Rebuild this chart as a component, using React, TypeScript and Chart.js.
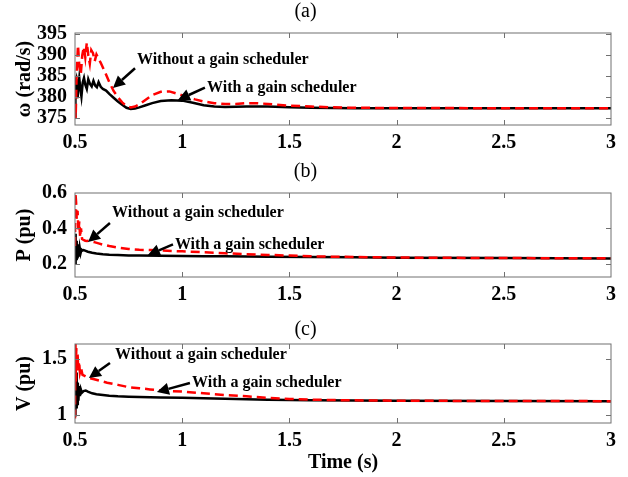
import React, { useEffect, useRef } from 'react';
import { Chart, registerables } from 'chart.js';
Chart.register(...registerables);

const FONT = "'Liberation Serif', 'Times New Roman', serif";

// shared x ticks (time, s)
const xTicks = [0.5, 1, 1.5, 2, 2.5, 3];

// ---- Panel (a): rotor speed omega (rad/s)
const tA_with = [0.5, 0.502, 0.505, 0.508, 0.512, 0.516, 0.52, 0.525, 0.53, 0.536, 0.542, 0.548, 0.555, 0.562, 0.57, 0.578, 0.586, 0.594, 0.602, 0.61, 0.62, 0.63, 0.645, 0.66, 0.68, 0.7, 0.72, 0.74, 0.76, 0.78, 0.8, 0.83, 0.86, 0.9, 0.95, 1.0, 1.05, 1.1, 1.15, 1.2, 1.3, 1.4, 1.5, 1.6, 1.8, 2.0, 2.5, 3.0];
const omegaWith = [375.5, 383.8, 384.3, 381.5, 379.8, 382.5, 384.5, 382.0, 380.2, 383.5, 384.6, 383.0, 382.0, 384.3, 383.2, 382.6, 383.9, 382.8, 382.4, 383.6, 382.5, 382.0, 381.6, 380.8, 379.9, 379.0, 378.2, 377.5, 377.2, 377.3, 377.6, 378.1, 378.6, 379.1, 379.3, 379.2, 378.7, 378.1, 377.8, 377.7, 377.8, 377.8, 377.6, 377.5, 377.4, 377.4, 377.4, 377.4];
const tA_without = [0.5, 0.503, 0.508, 0.514, 0.52, 0.527, 0.534, 0.541, 0.548, 0.555, 0.562, 0.569, 0.576, 0.584, 0.592, 0.6, 0.61, 0.62, 0.64, 0.66, 0.68, 0.7, 0.72, 0.74, 0.76, 0.78, 0.8, 0.83, 0.86, 0.9, 0.94, 0.98, 1.02, 1.06, 1.1, 1.15, 1.2, 1.25, 1.3, 1.35, 1.4, 1.5, 1.6, 1.7, 1.8, 2.0, 2.5, 3.0];
const omegaWithout = [377.0, 375.0, 386.0, 392.4, 387.5, 385.5, 390.0, 392.0, 389.5, 393.0, 390.0, 388.0, 391.2, 390.5, 388.6, 390.2, 389.2, 388.2, 386.0, 383.6, 381.5, 380.0, 378.8, 377.9, 377.6, 377.8, 378.3, 379.4, 380.5, 381.3, 381.4, 380.8, 380.1, 379.5, 379.0, 378.6, 378.4, 378.4, 378.6, 378.6, 378.4, 378.0, 377.8, 377.6, 377.5, 377.45, 377.4, 377.4];
const yTicksA = [375, 380, 385, 390, 395];

// ---- Panel (b): active power P (pu)
const tB_with = [0.5, 0.502, 0.504, 0.506, 0.508, 0.51, 0.512, 0.515, 0.518, 0.522, 0.526, 0.53, 0.535, 0.54, 0.55, 0.56, 0.58, 0.6, 0.63, 0.66, 0.7, 0.75, 0.8, 0.9, 1.0, 1.1, 1.2, 1.4, 1.6, 1.8, 2.0, 2.5, 3.0];
const pWith = [0.2, 0.37, 0.21, 0.33, 0.22, 0.31, 0.23, 0.3, 0.24, 0.29, 0.26, 0.28, 0.275, 0.277, 0.273, 0.268, 0.262, 0.258, 0.254, 0.251, 0.249, 0.247, 0.246, 0.245, 0.244, 0.243, 0.242, 0.24, 0.238, 0.236, 0.234, 0.232, 0.23];
const tB_without = [0.5, 0.502, 0.505, 0.508, 0.512, 0.516, 0.52, 0.524, 0.528, 0.533, 0.54, 0.548, 0.556, 0.565, 0.575, 0.59, 0.61, 0.63, 0.66, 0.7, 0.75, 0.8, 0.85, 0.9, 1.0, 1.1, 1.2, 1.3, 1.4, 1.5, 1.6, 1.8, 2.0, 2.5, 3.0];
const pWithout = [0.3, 0.6, 0.55, 0.45, 0.5, 0.38, 0.44, 0.35, 0.4, 0.34, 0.335, 0.33, 0.328, 0.33, 0.327, 0.322, 0.315, 0.308, 0.3, 0.291, 0.284, 0.279, 0.277, 0.275, 0.27, 0.265, 0.259, 0.254, 0.25, 0.246, 0.242, 0.238, 0.235, 0.232, 0.231];
const yTicksB = [0.2, 0.4, 0.6];

// ---- Panel (c): voltage V (pu)
const tC_with = [0.5, 0.501, 0.503, 0.505, 0.507, 0.509, 0.511, 0.513, 0.516, 0.519, 0.523, 0.527, 0.532, 0.54, 0.55, 0.56, 0.58, 0.6, 0.63, 0.66, 0.7, 0.75, 0.8, 0.9, 1.0, 1.1, 1.2, 1.4, 1.6, 1.8, 2.0, 2.5, 3.0];
const vWith = [1.0, 1.45, 1.02, 1.38, 1.06, 1.33, 1.1, 1.29, 1.13, 1.26, 1.17, 1.23, 1.2, 1.215, 1.22, 1.21, 1.195, 1.187, 1.18, 1.174, 1.168, 1.164, 1.161, 1.158, 1.155, 1.15, 1.146, 1.138, 1.133, 1.13, 1.128, 1.126, 1.125];
const tC_without = [0.5, 0.502, 0.504, 0.506, 0.509, 0.512, 0.515, 0.519, 0.523, 0.528, 0.535, 0.545, 0.555, 0.57, 0.59, 0.62, 0.65, 0.7, 0.75, 0.8, 0.85, 0.9, 1.0, 1.1, 1.2, 1.3, 1.4, 1.5, 1.6, 1.8, 2.0, 2.5, 3.0];
const vWithout = [0.97, 1.7, 1.3, 1.6, 1.42, 1.55, 1.4, 1.48, 1.38, 1.42, 1.36, 1.35, 1.34, 1.33, 1.32, 1.305, 1.29, 1.27, 1.25, 1.24, 1.23, 1.22, 1.21, 1.195, 1.18, 1.168, 1.155, 1.145, 1.138, 1.132, 1.129, 1.126, 1.125];
const yTicksC = [1, 1.5];

// annotation labels (text anchor and arrow tail/head in data units)
const labelWithout = 'Without a gain scheduler';
const labelWith = 'With a gain scheduler';
const annA = [
  { text: labelWithout, tx: 0.789, ty: 388.9, x1: 0.78, y1: 386.9, x2: 0.677, y2: 382.2 },
  { text: labelWith, tx: 1.116, ty: 382.2, x1: 1.106, y1: 382.3, x2: 0.98, y2: 379.35 },
];
const annB = [
  { text: labelWithout, tx: 0.673, ty: 0.487, x1: 0.663, y1: 0.43, x2: 0.561, y2: 0.323 },
  { text: labelWith, tx: 0.966, ty: 0.306, x1: 0.957, y1: 0.31, x2: 0.84, y2: 0.249 },
];
const annC = [
  { text: labelWithout, tx: 0.687, ty: 1.537, x1: 0.663, y1: 1.465, x2: 0.565, y2: 1.331 },
  { text: labelWith, tx: 1.046, ty: 1.287, x1: 1.036, y1: 1.287, x2: 0.882, y2: 1.206 },
];

const framePlugin = {
  id: 'frame',
  afterDatasetsDraw(chart: any, _args: any, opts: any) {
    const { ctx, chartArea, scales } = chart;
    const { left, right, top, bottom } = chartArea;
    const xs = scales.x;
    const ys = scales.y;
    ctx.save();
    ctx.strokeStyle = '#707070';
    ctx.lineWidth = 1;
    ctx.strokeRect(left, top, right - left, bottom - top);
    const tl = 5;
    ctx.beginPath();
    xs.ticks.forEach((t: any) => {
      const px = Math.round(xs.getPixelForValue(t.value)) + 0.5;
      if (px <= left + 1 || px >= right - 1) return;
      ctx.moveTo(px, bottom);
      ctx.lineTo(px, bottom - tl);
      ctx.moveTo(px, top);
      ctx.lineTo(px, top + tl);
    });
    ys.ticks.forEach((t: any) => {
      const py = Math.round(ys.getPixelForValue(t.value)) + 0.5;
      if (py <= top + 1 || py >= bottom - 1) return;
      ctx.moveTo(left, py);
      ctx.lineTo(left + tl, py);
      ctx.moveTo(right, py);
      ctx.lineTo(right - tl, py);
    });
    ctx.stroke();

    (opts.items || []).forEach((a: any) => {
      ctx.fillStyle = '#000';
      ctx.font = `bold 16px ${FONT}`;
      ctx.textAlign = 'left';
      ctx.textBaseline = 'middle';
      ctx.fillText(a.text, xs.getPixelForValue(a.tx), ys.getPixelForValue(a.ty));
      const x1 = xs.getPixelForValue(a.x1);
      const y1 = ys.getPixelForValue(a.y1);
      const x2 = xs.getPixelForValue(a.x2);
      const y2 = ys.getPixelForValue(a.y2);
      const ang = Math.atan2(y2 - y1, x2 - x1);
      const hl = 12;
      const hw = 6;
      const bx = x2 - hl * Math.cos(ang);
      const by = y2 - hl * Math.sin(ang);
      ctx.strokeStyle = '#000';
      ctx.lineWidth = 2.5;
      ctx.beginPath();
      ctx.moveTo(x1, y1);
      ctx.lineTo(bx, by);
      ctx.stroke();
      ctx.beginPath();
      ctx.moveTo(x2, y2);
      ctx.lineTo(bx + hw * Math.sin(ang), by - hw * Math.cos(ang));
      ctx.lineTo(bx - hw * Math.sin(ang), by + hw * Math.cos(ang));
      ctx.closePath();
      ctx.fill();
    });
    ctx.restore();
  },
};

type PanelProps = {
  width: number;
  height: number;
  title: string;
  titlePadBottom: number;
  yLabel: string;
  yMin: number;
  yMax: number;
  yTicks: number[];
  tWith: number[];
  vWith: number[];
  tWithout: number[];
  vWithout: number[];
  xAxisHeight: number;
  xTitle?: string;
  ann: any[];
};

function Panel(p: PanelProps) {
  const ref = useRef<HTMLCanvasElement>(null);
  useEffect(() => {
    if (!ref.current) return;
    const chart = new Chart(ref.current, {
      type: 'line',
      data: {
        datasets: [
          {
            label: 'Without a gain scheduler',
            data: p.tWithout.map((t, i) => ({ x: t, y: p.vWithout[i] })),
            borderColor: '#ff0000',
            borderWidth: 2.5,
            borderDash: [9, 5],
            pointRadius: 0,
            fill: false,
            tension: 0,
          },
          {
            label: 'With a gain scheduler',
            data: p.tWith.map((t, i) => ({ x: t, y: p.vWith[i] })),
            borderColor: '#000000',
            borderWidth: 2.5,
            pointRadius: 0,
            fill: false,
            tension: 0,
          },
        ],
      },
      options: {
        animation: false,
        responsive: false,
        events: [],
        layout: { padding: { left: 0, right: 17, top: 0, bottom: 0 } },
        plugins: {
          legend: { display: false },
          tooltip: { enabled: false },
          title: {
            display: true,
            text: p.title,
            color: '#000',
            font: { family: FONT, size: 20, weight: 'normal' },
            padding: { top: 0, bottom: p.titlePadBottom },
          },
          frame: { items: p.ann },
        } as any,
        scales: {
          x: {
            type: 'linear',
            min: 0.5,
            max: 3,
            afterBuildTicks: (s: any) => {
              s.ticks = xTicks.map((v) => ({ value: v }));
            },
            afterFit: (s: any) => {
              s.height = p.xAxisHeight;
            },
            grid: { display: false, drawTicks: false },
            border: { display: false },
            ticks: {
              color: '#000',
              font: { family: FONT, size: 20, weight: 'bold' },
              padding: 6,
              maxRotation: 0,
              autoSkip: false,
              callback: (v: any) => String(v),
            },
            title: {
              display: !!p.xTitle,
              text: p.xTitle || '',
              color: '#000',
              font: { family: FONT, size: 20, weight: 'bold' },
              padding: { top: 0, bottom: 2 },
            },
          },
          y: {
            type: 'linear',
            min: p.yMin,
            max: p.yMax,
            afterBuildTicks: (s: any) => {
              s.ticks = p.yTicks.map((v) => ({ value: v }));
            },
            afterFit: (s: any) => {
              s.width = 75;
            },
            grid: { display: false, drawTicks: false },
            border: { display: false },
            ticks: {
              color: '#000',
              font: { family: FONT, size: 20, weight: 'bold' },
              padding: 8,
              autoSkip: false,
              callback: (v: any) => String(v),
            },
            title: {
              display: true,
              text: p.yLabel,
              color: '#000',
              font: { family: FONT, size: 20, weight: 'bold' },
              padding: { top: 13, bottom: 0 },
            },
          },
        },
      },
      plugins: [framePlugin],
    } as any);
    return () => chart.destroy();
  }, []);
  return <canvas ref={ref} width={p.width} height={p.height} style={{ display: 'block', width: p.width, height: p.height }} />;
}

export default function App() {
  return (
    <div style={{ position: 'absolute', left: 0, top: 0, width: 628, height: 477, background: '#fff' }}>
      <div style={{ position: 'absolute', left: 0, top: 0 }}>
        <Panel width={628} height={160} title="(a)" titlePadBottom={9} yLabel="ω (rad/s)" yMin={373.4} yMax={395.3} yTicks={yTicksA}
          tWith={tA_with} vWith={omegaWith} tWithout={tA_without} vWithout={omegaWithout} xAxisHeight={35} ann={annA} />
      </div>
      <div style={{ position: 'absolute', left: 0, top: 160 }}>
        <Panel width={628} height={160} title="(b)" titlePadBottom={9} yLabel="P (pu)" yMin={0.125} yMax={0.6} yTicks={yTicksB}
          tWith={tB_with} vWith={pWith} tWithout={tB_without} vWithout={pWithout} xAxisHeight={43} ann={annB} />
      </div>
      <div style={{ position: 'absolute', left: 0, top: 318 }}>
        <Panel width={628} height={159} title="(c)" titlePadBottom={2} yLabel="V (pu)" yMin={0.93} yMax={1.635} yTicks={yTicksC}
          tWith={tC_with} vWith={vWith} tWithout={tC_without} vWithout={vWithout} xAxisHeight={54} xTitle="Time (s)" ann={annC} />
      </div>
    </div>
  );
}
